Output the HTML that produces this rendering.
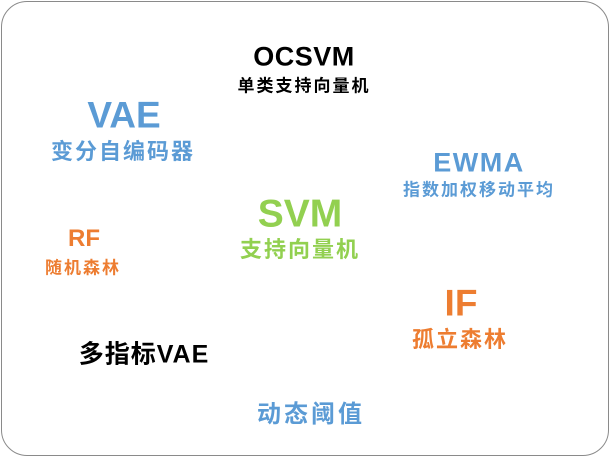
<!DOCTYPE html>
<html><head><meta charset="utf-8"><style>
html,body{margin:0;padding:0;background:#fff;}
body{width:611px;height:458px;position:relative;overflow:hidden;font-family:"Liberation Sans","Noto Sans CJK SC",sans-serif;font-weight:bold;}
.box{position:absolute;left:1px;top:1px;width:606px;height:453px;border:1.5px solid #8a8a8a;border-radius:26px;}
.t{position:absolute;transform:translate(-50%,-50%);white-space:nowrap;line-height:1;}
.b{color:#5b9bd5}.g{color:#92d050}.o{color:#ed7d31}.k{color:#000}
</style></head><body>
<div class="box"></div>
<div class="t k" style="left:304px;top:57px;font-size:27px;letter-spacing:0.5px">OCSVM</div>
<div class="t k" style="left:304px;top:86px;font-size:17px;letter-spacing:2px">单类支持向量机</div>
<div class="t b" style="left:124px;top:115px;font-size:37px">VAE</div>
<div class="t b" style="left:123px;top:152px;font-size:22px;letter-spacing:2px">变分自编码器</div>
<div class="t b" style="left:479px;top:163px;font-size:27px;letter-spacing:1.5px">EWMA</div>
<div class="t b" style="left:479px;top:190px;font-size:17px;letter-spacing:2px">指数加权移动平均</div>
<div class="t g" style="left:300px;top:214px;font-size:39px">SVM</div>
<div class="t g" style="left:300px;top:250px;font-size:22px;letter-spacing:2px">支持向量机</div>
<div class="t o" style="left:84px;top:239px;font-size:24px">RF</div>
<div class="t o" style="left:83px;top:268px;font-size:17px;letter-spacing:2px">随机森林</div>
<div class="t o" style="left:461px;top:303px;font-size:37px">IF</div>
<div class="t o" style="left:460px;top:340px;font-size:22px;letter-spacing:2px">孤立森林</div>
<div class="t k" style="left:144px;top:355px;font-size:25px;letter-spacing:1px">多指标VAE</div>
<div class="t b" style="left:311px;top:415px;font-size:24px;letter-spacing:3px">动态阈值</div>
</body></html>
